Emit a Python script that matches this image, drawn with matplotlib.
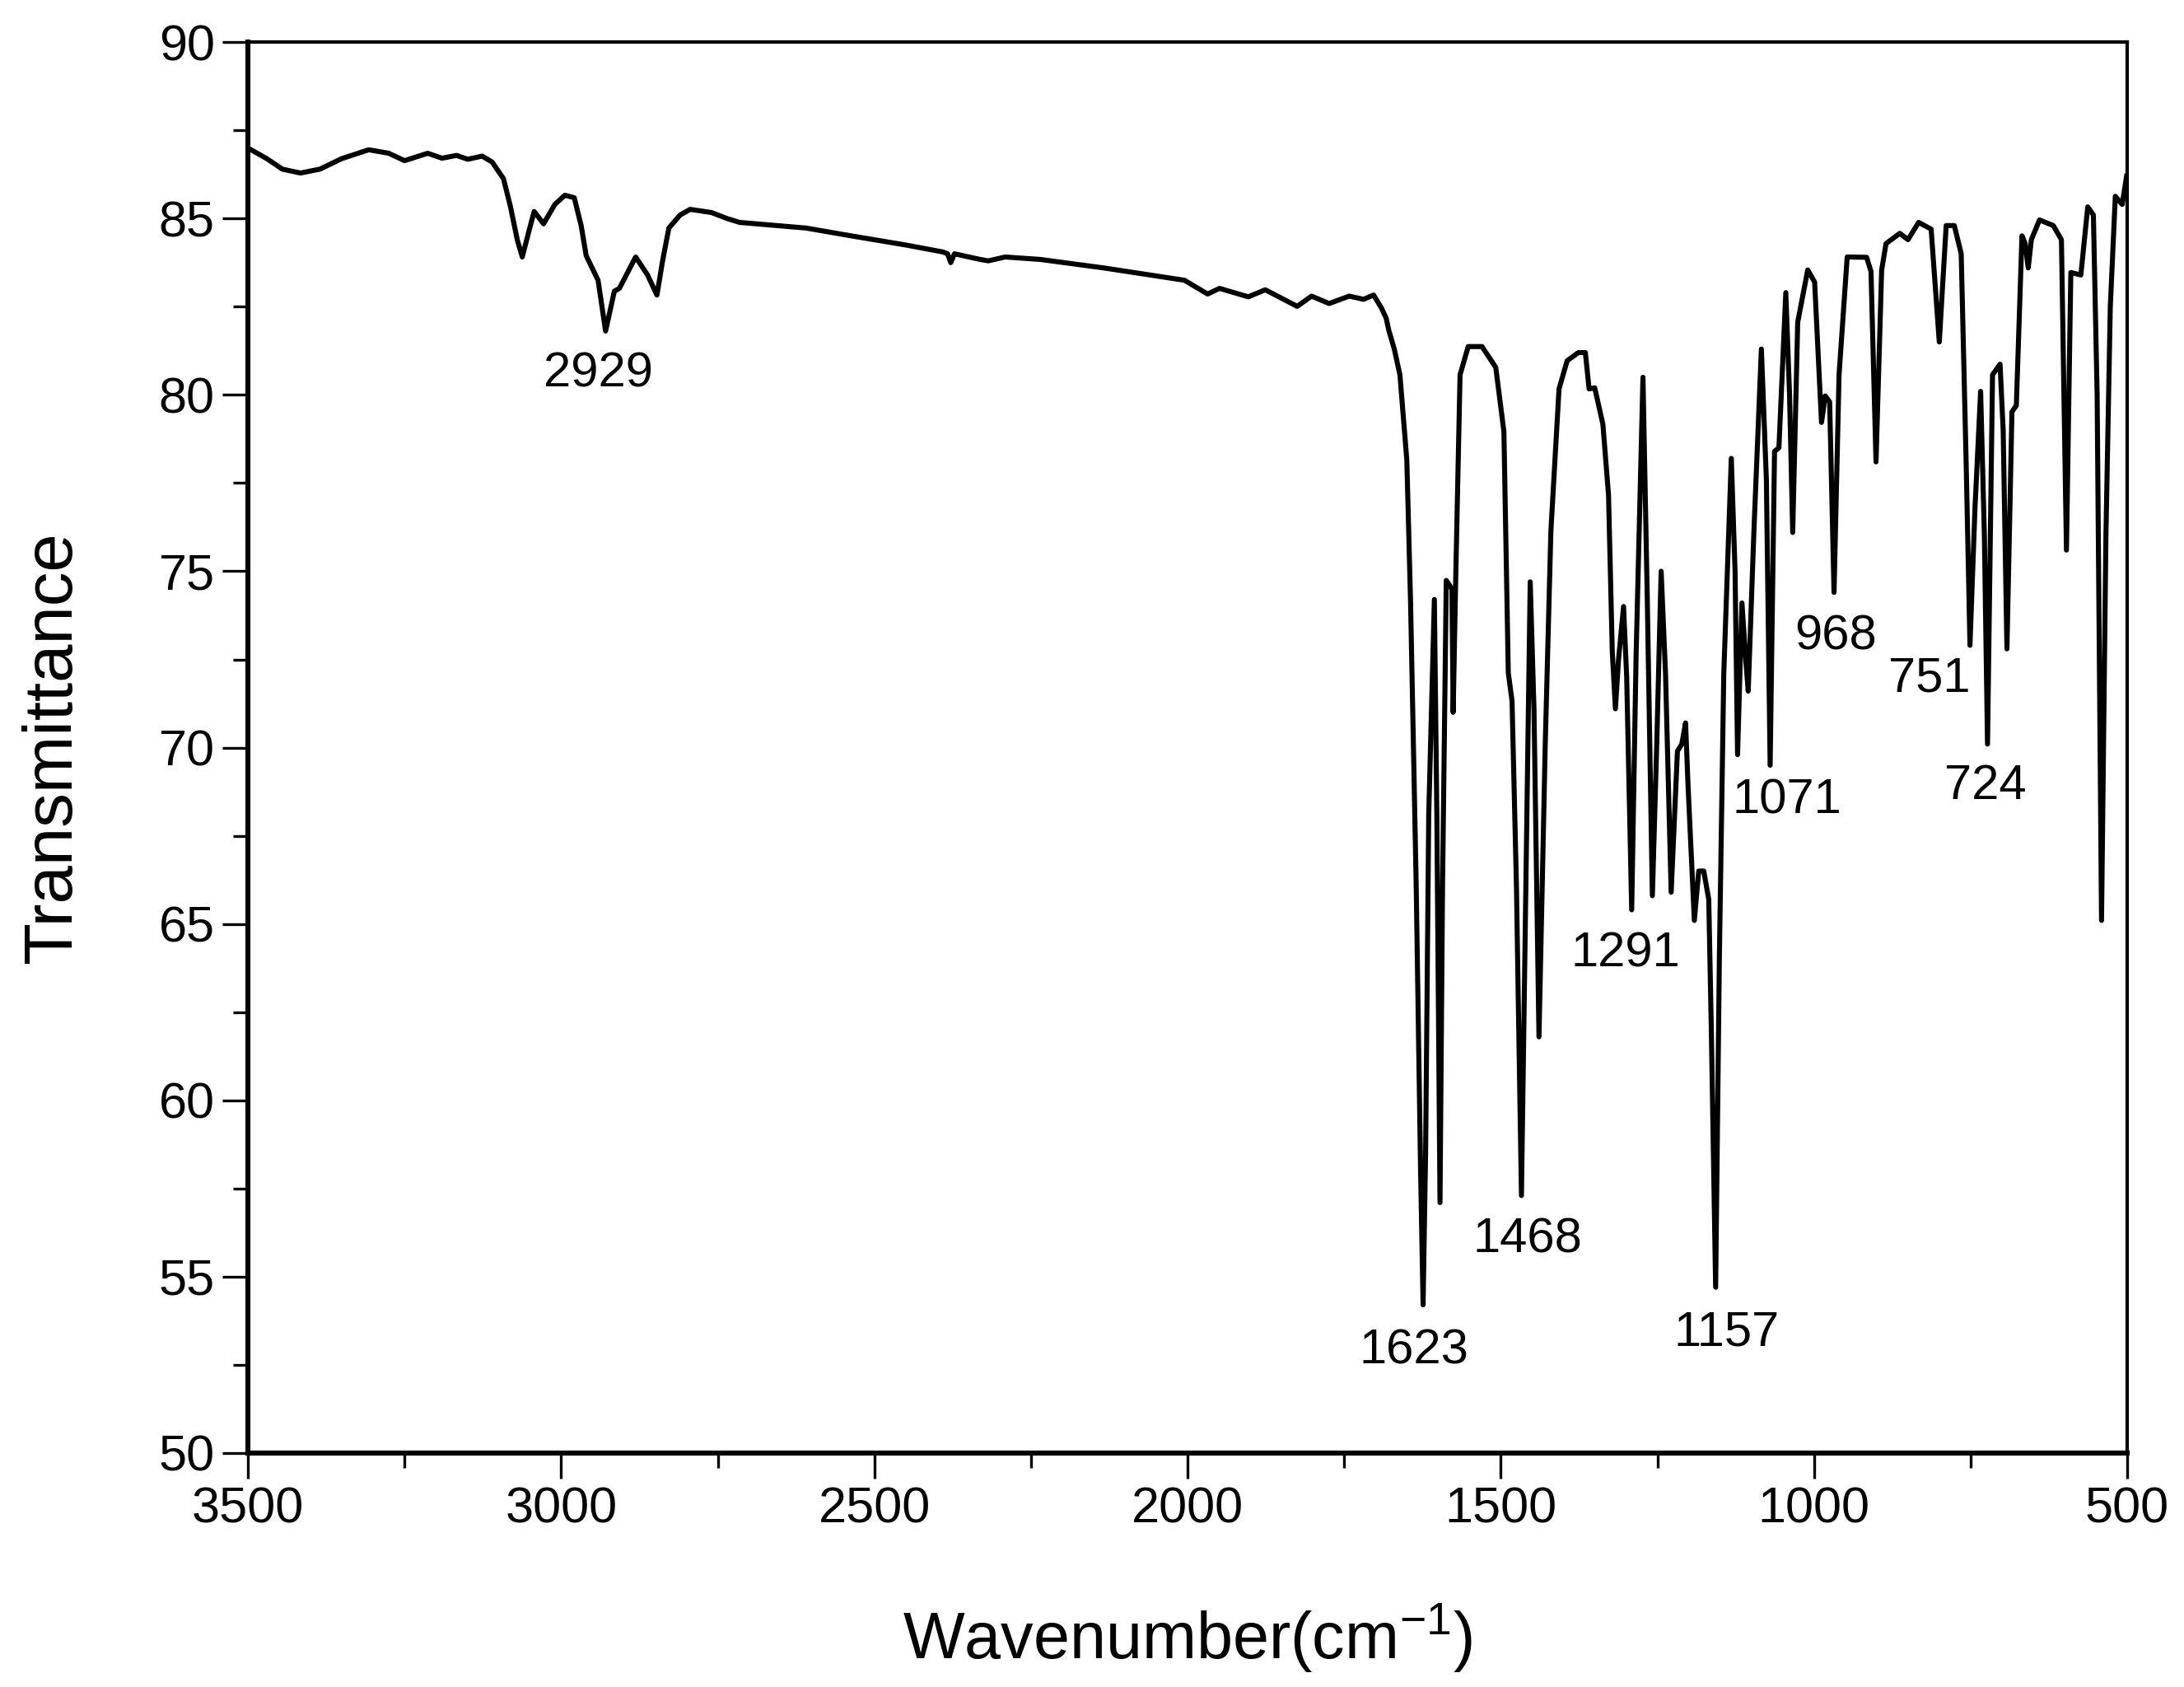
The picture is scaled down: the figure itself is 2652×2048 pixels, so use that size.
import matplotlib
matplotlib.use("Agg")
import matplotlib.pyplot as plt
from matplotlib.ticker import MultipleLocator

plt.rcParams["font.family"] = ["Liberation Sans", "DejaVu Sans"]
plt.rcParams["mathtext.fontset"] = "custom"
plt.rcParams["mathtext.rm"] = "Liberation Sans"
plt.rcParams["mathtext.it"] = "Liberation Sans"

# IR spectrum (wavenumber in cm-1, transmittance)
wavenumber = [
    3500, 3470, 3445, 3416, 3385, 3350, 3307, 3275, 3250, 3213, 3190, 3167, 3149, 3126,
    3110, 3092, 3081, 3070, 3062, 3052, 3043, 3028, 3010, 2994, 2979, 2968, 2960, 2941,
    2929, 2915, 2907, 2881, 2862, 2847, 2838, 2828, 2810, 2794, 2760, 2735, 2715, 2609,
    2534, 2450, 2390, 2383, 2378, 2372, 2331, 2318, 2291, 2235, 2134, 2005, 1968, 1949,
    1903, 1876, 1825, 1802, 1774, 1742, 1719, 1703, 1691, 1683, 1679, 1670, 1661, 1650,
    1644, 1635, 1628, 1624, 1620, 1615, 1606, 1602, 1597, 1593, 1587, 1578, 1576, 1572,
    1565, 1552, 1530, 1508, 1495, 1488, 1482, 1475, 1467, 1460, 1453, 1447, 1439, 1429,
    1420, 1407, 1394, 1376, 1365, 1359, 1350, 1337, 1328, 1322, 1317, 1312, 1304, 1299,
    1291, 1284, 1273, 1266, 1258, 1251, 1244, 1237, 1228, 1218, 1211, 1205, 1201, 1191,
    1184, 1176, 1168, 1164, 1157, 1151, 1144, 1132, 1126, 1122, 1115, 1109, 1105, 1096,
    1084, 1076, 1070, 1063, 1056, 1045, 1039, 1034, 1026, 1010, 999, 988, 982, 975,
    968, 960, 947, 916, 909, 901, 892, 885, 863, 850, 833, 813, 800, 789,
    776, 765, 757, 751, 743, 734, 728, 723, 715, 703, 698, 692, 684, 677,
    668, 663, 658, 653, 640, 618, 605, 597, 590, 574, 563, 554, 548, 541,
    534, 527, 519, 508, 501,
]
transmittance = [
    87.0, 86.7, 86.4, 86.29, 86.4, 86.7, 86.95, 86.85, 86.64, 86.85, 86.71, 86.79, 86.68, 86.77,
    86.6, 86.13, 85.35, 84.4, 83.91, 84.6, 85.2, 84.85, 85.4, 85.66, 85.59, 84.8, 83.95, 83.25,
    81.81, 82.94, 83.02, 83.91, 83.4, 82.83, 83.8, 84.73, 85.1, 85.26, 85.17, 85.0, 84.89, 84.73,
    84.5, 84.25, 84.05, 84.0, 83.75, 84.0, 83.84, 83.8, 83.91, 83.84, 83.6, 83.25, 82.86, 83.02,
    82.78, 82.98, 82.51, 82.8, 82.59, 82.8, 82.71, 82.83, 82.48, 82.18, 81.85, 81.3, 80.57, 78.16,
    74.13, 66.09, 58.0, 54.2, 58.5, 68.1, 74.2, 68.0, 57.1, 66.0, 74.74, 74.5, 71.0, 74.74,
    80.57, 81.37, 81.37, 80.78, 78.96, 72.12, 71.32, 66.09, 57.3, 66.0, 74.7, 71.1, 61.8, 70.1,
    76.14, 80.17, 80.97, 81.2, 81.2, 80.17, 80.2, 79.17, 77.16, 72.72, 71.1, 72.5, 74.0, 72.0,
    65.4, 72.6, 80.5, 74.1, 65.8, 70.1, 75.0, 72.1, 65.9, 69.9, 70.1, 70.7, 68.9, 65.1,
    66.5, 66.5, 65.7, 62.1, 54.7, 64.1, 72.1, 78.2, 75.0, 69.8, 74.1, 72.5, 71.6, 76.1,
    81.3, 77.6, 69.5, 78.4, 78.5, 82.9, 80.0, 76.1, 82.06, 83.54, 83.2, 79.22, 79.97, 79.8,
    74.4, 80.57, 83.91, 83.9, 83.5, 78.1, 83.54, 84.29, 84.58, 84.4, 84.89, 84.7, 81.5, 84.8,
    84.8, 84.0, 78.0, 72.9, 76.8, 80.1, 76.0, 70.1, 80.57, 80.87, 79.0, 72.8, 79.52, 79.7,
    84.51, 84.3, 83.6, 84.4, 84.96, 84.8, 84.4, 75.6, 83.47, 83.4, 85.33, 85.1, 80.0, 65.1,
    76.0, 82.5, 85.63, 85.4, 86.2,
]

# peak labels: text, x, y
peak_labels = ["2929", "1623", "1468", "1291", "1157", "1071", "968", "751", "724"]
label_x = [2940, 1639, 1457, 1301, 1139, 1043, 965, 816, 727]
label_y = [80.6, 52.9, 56.05, 64.14, 53.4, 68.5, 73.14, 71.96, 68.9]

fig = plt.figure(figsize=(13.26, 10.24), dpi=200)
ax = fig.add_axes([0.1135, 0.1387, 0.8605, 0.8363])

ax.plot(wavenumber, transmittance, color="black", lw=2.2)

for txt, x, y in zip(peak_labels, label_x, label_y):
    ax.text(x, y, txt, ha="center", va="center", fontsize=21.5)

ax.set_xlim(3500, 500)
ax.set_ylim(50, 90)
ax.xaxis.set_major_locator(MultipleLocator(500))
ax.xaxis.set_minor_locator(MultipleLocator(250))
ax.yaxis.set_major_locator(MultipleLocator(5))
ax.yaxis.set_minor_locator(MultipleLocator(2.5))

ax.tick_params(which="both", direction="out", top=False, right=False, labelsize=22, width=1.2)
ax.tick_params(which="major", length=11)
ax.tick_params(which="minor", length=6.5)
for side in ["left", "bottom"]:
    ax.spines[side].set_linewidth(2.2)
for side in ["top", "right"]:
    ax.spines[side].set_linewidth(1.5)

ax.set_xlabel("Wavenumber(cm$^{-1}$)", fontsize=28.5, labelpad=30)
ax.set_ylabel("Transmittance", fontsize=30, labelpad=32)

fig.savefig("out.png", dpi=200)
